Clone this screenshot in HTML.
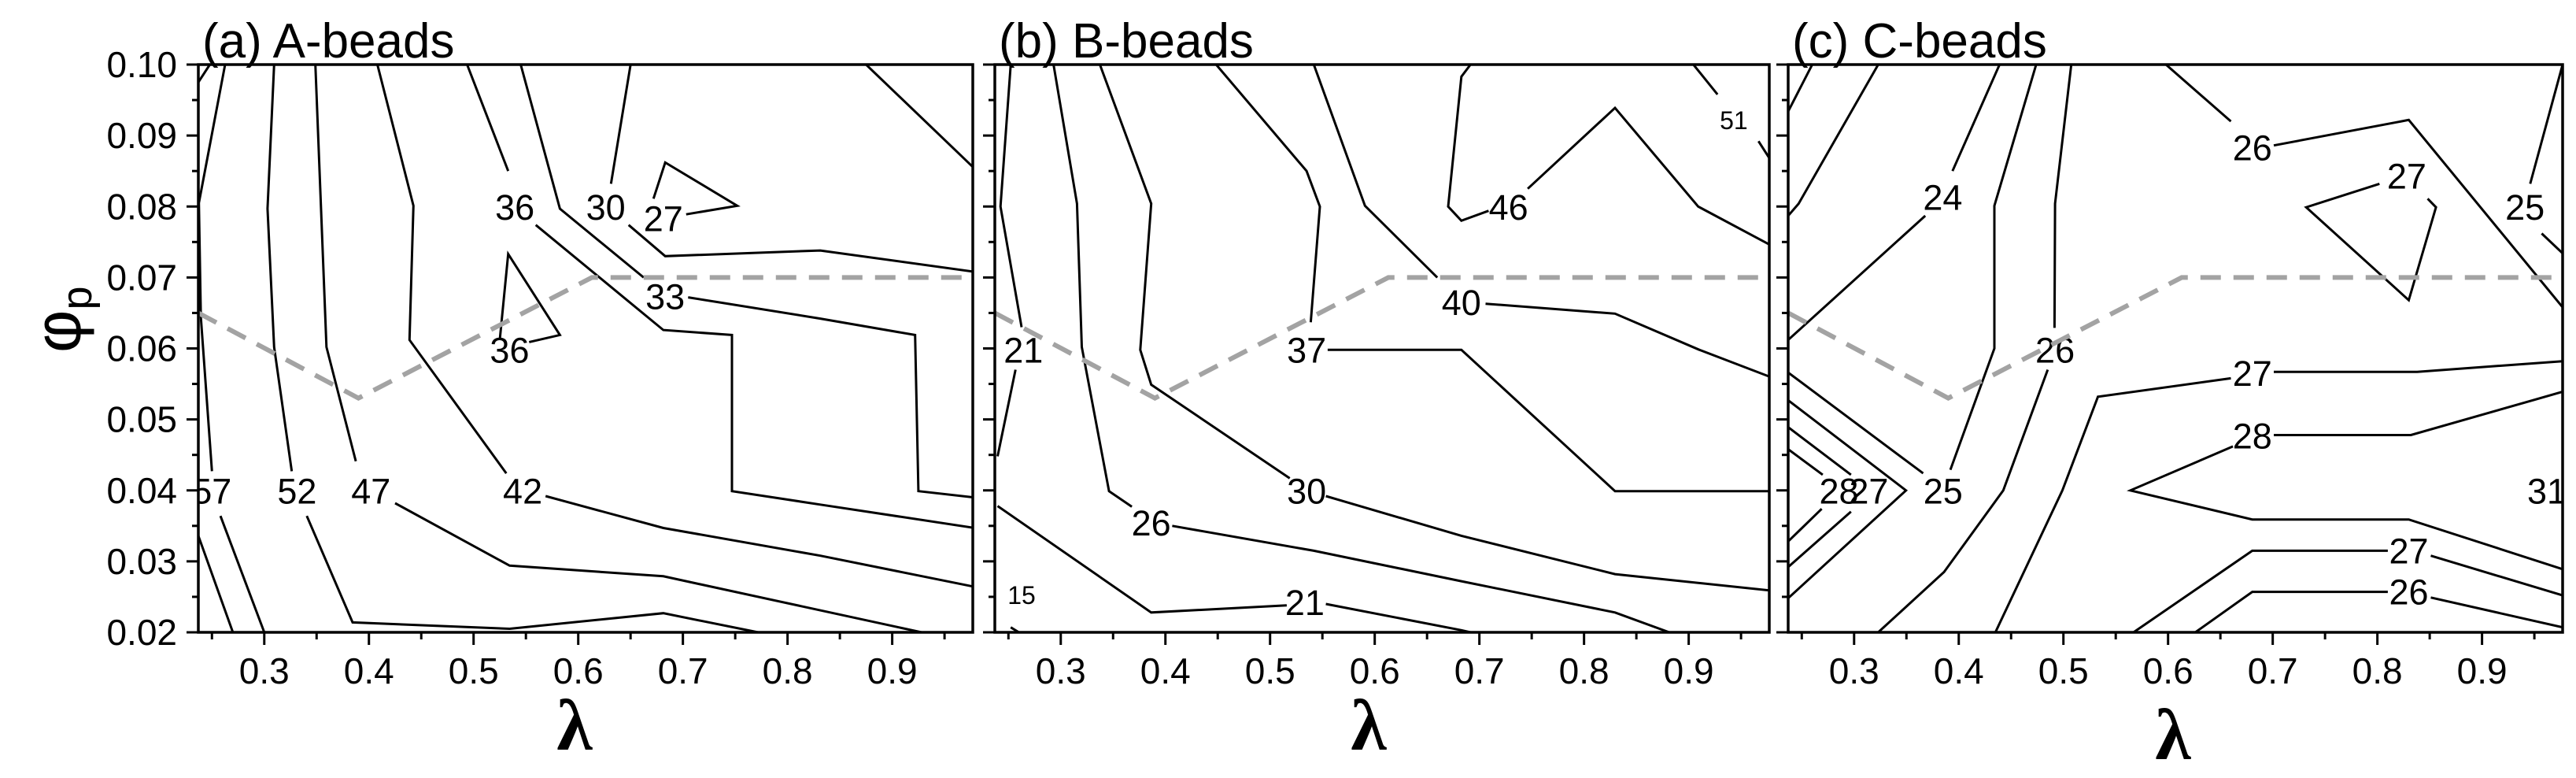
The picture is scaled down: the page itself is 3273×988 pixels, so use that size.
<!DOCTYPE html>
<html><head><meta charset="utf-8"><style>
html,body{margin:0;padding:0;background:#fff;}
svg{display:block;font-family:"Liberation Sans",sans-serif;}
</style></head><body>
<svg id="chart" width="3273" height="988" viewBox="0 0 3273 988" xmlns="http://www.w3.org/2000/svg">
<rect width="3273" height="988" fill="#fff"/>
</svg>
<script>
const lambdaRange = [0.237, 0.977];
const phiRange = [0.02, 0.10];
const xTicks = [0.3,0.4,0.5,0.6,0.7,0.8,0.9];
const xTickLabels = ["0.3","0.4","0.5","0.6","0.7","0.8","0.9"];
const yTicks = [0.02,0.03,0.04,0.05,0.06,0.07,0.08,0.09,0.10];
const yTickLabels = ["0.02","0.03","0.04","0.05","0.06","0.07","0.08","0.09","0.10"];
const panelTitles = ["(a) A-beads","(b) B-beads","(c) C-beads"];
const boundaryLine = [[0.237,0.065],[0.39,0.053],[0.613,0.070],[0.977,0.070]];

const panelALines = [
 [[0.248,0.1],[0.237,0.0975]],
 [[0.237,0.0336],[0.27,0.02]],
 [[0.2626,0.1],[0.2375,0.0805],[0.2394,0.0644],[0.25,0.0427]],
 [[0.2581,0.0364],[0.3,0.02]],
 [[0.3094,0.1],[0.3031,0.0797],[0.3094,0.0602],[0.3263,0.0427]],
 [[0.3406,0.0364],[0.3844,0.0214],[0.5344,0.0205],[0.6813,0.0227],[0.7719,0.02]],
 [[0.3488,0.1],[0.3594,0.0602],[0.3875,0.0441]],
 [[0.425,0.0382],[0.5344,0.0294],[0.6813,0.0279],[0.9281,0.02]],
 [[0.4081,0.1],[0.4425,0.0801],[0.4388,0.0612],[0.5313,0.0424]],
 [[0.5688,0.0392],[0.6813,0.0347],[0.8313,0.0308],[0.979,0.0264]],
 [[0.4938,0.1],[0.5331,0.085]],
 [[0.5594,0.0774],[0.6813,0.0626],[0.7469,0.0619],[0.7469,0.0399],[0.8313,0.038],[0.979,0.0347]],
 [[0.545,0.1],[0.5825,0.0797],[0.6625,0.07]],
 [[0.705,0.0672],[0.8313,0.0642],[0.9219,0.0619],[0.925,0.0399],[0.979,0.039]],
 [[0.65,0.1],[0.6313,0.0832]],
 [[0.6481,0.0774],[0.6831,0.073],[0.8313,0.0738],[0.979,0.0708]],
 [[0.6719,0.0811],[0.6831,0.0862],[0.7519,0.0801],[0.7031,0.0789]],
 [[0.525,0.0612],[0.5331,0.0733],[0.5825,0.0619],[0.5531,0.0609]],
 [[0.875,0.1],[0.979,0.0853]]
];
const panelALabels = [["57",0.25,0.0399],["52",0.3313,0.0399],["47",0.4019,0.0399],["42",0.5469,0.0399],["36",0.5394,0.0799],["33",0.6831,0.0673],["30",0.6263,0.0799],["27",0.6813,0.0783],["36",0.5344,0.0598]];
const panelASmall = [];

const panelBLines = [
 [[0.2522,0.1],[0.2424,0.08],[0.2626,0.063]],
 [[0.2568,0.057],[0.2396,0.0448]],
 [[0.2931,0.1],[0.3155,0.0804],[0.3201,0.0602],[0.3461,0.0399],[0.3679,0.0377]],
 [[0.4065,0.035],[0.5418,0.0315],[0.6828,0.0272],[0.8296,0.0228],[0.8815,0.02]],
 [[0.2396,0.0378],[0.3864,0.0228],[0.5159,0.0238]],
 [[0.5533,0.024],[0.6828,0.0203],[0.6915,0.02]],
 [[0.3374,0.1],[0.3864,0.0804],[0.376,0.0598],[0.3864,0.0549],[0.5188,0.0417]],
 [[0.5533,0.0392],[0.6828,0.0336],[0.8296,0.0282],[0.9776,0.0259]],
 [[0.4485,0.1],[0.5349,0.085],[0.5476,0.08],[0.5389,0.0637]],
 [[0.555,0.0598],[0.6828,0.0598],[0.8296,0.0399],[0.9776,0.0399]],
 [[0.5418,0.1],[0.5907,0.0801],[0.6598,0.07]],
 [[0.7059,0.0663],[0.8296,0.0649],[0.9103,0.0598],[0.9776,0.056]],
 [[0.6915,0.1],[0.6828,0.0983],[0.6702,0.08],[0.6828,0.078],[0.7088,0.0794]],
 [[0.7462,0.0825],[0.8296,0.0939],[0.9091,0.08],[0.9776,0.0746]],
 [[0.9045,0.1],[0.9275,0.0958]],
 [[0.9667,0.0892],[0.9776,0.0867]],
 [[0.2522,0.0207],[0.26,0.02]]
];
const panelBLabels = [["21",0.2643,0.0598],["26",0.3864,0.0354],["21",0.5332,0.0242],["30",0.5349,0.0399],["37",0.5349,0.0598],["40",0.6828,0.0665],["46",0.7278,0.0799]];
const panelBSmall = [["51",0.9431,0.0921],["15",0.2626,0.0252]];

const panelCLines = [
 [[0.260,0.1],[0.237,0.0934]],
 [[0.323,0.1],[0.247,0.0804],[0.237,0.0787]],
 [[0.439,0.1],[0.394,0.085]],
 [[0.368,0.0787],[0.237,0.0612]],
 [[0.474,0.1],[0.434,0.0801],[0.434,0.06],[0.392,0.0429]],
 [[0.366,0.0424],[0.237,0.0566]],
 [[0.5075,0.1],[0.492,0.0804],[0.4915,0.0629]],
 [[0.485,0.057],[0.4425,0.04],[0.386,0.0285],[0.323,0.02]],
 [[0.977,0.0582],[0.838,0.0567],[0.701,0.0567]],
 [[0.660,0.0558],[0.533,0.0532],[0.499,0.04],[0.435,0.02]],
 [[0.977,0.0539],[0.832,0.0478],[0.701,0.0478]],
 [[0.662,0.0462],[0.564,0.04],[0.6805,0.0359],[0.830,0.0359],[0.977,0.0289]],
 [[0.567,0.02],[0.6805,0.0315],[0.810,0.0315]],
 [[0.851,0.0308],[0.977,0.0252]],
 [[0.626,0.02],[0.6805,0.0257],[0.810,0.0257]],
 [[0.851,0.0249],[0.977,0.0207]],
 [[0.237,0.0527],[0.3496,0.04],[0.237,0.0248]],
 [[0.237,0.0489],[0.297,0.0422]],
 [[0.297,0.037],[0.237,0.0292]],
 [[0.237,0.0458],[0.270,0.0422]],
 [[0.269,0.0374],[0.237,0.0328]],
 [[0.598,0.1],[0.660,0.092]],
 [[0.701,0.0886],[0.830,0.0922],[0.977,0.0658]],
 [[0.802,0.0832],[0.732,0.0799],[0.830,0.0668],[0.856,0.0799],[0.848,0.0811]],
 [[0.977,0.1],[0.946,0.0832]],
 [[0.957,0.0762],[0.977,0.0734]]
];
const panelCLabels = [["24",0.3847,0.0813],["25",0.385,0.0399],["26",0.492,0.0598],["27",0.6805,0.0565],["28",0.6805,0.0477],["27",0.830,0.0315],["26",0.830,0.0257],["27",0.314,0.0399],["28",0.2855,0.0399],["26",0.6805,0.0883],["27",0.828,0.0843],["25",0.941,0.0799],["31",0.962,0.0399]];
const panelCSmall = [];

const NS = "http://www.w3.org/2000/svg";
const svg = document.getElementById('chart');
const panelLefts = [252,1264,2272];
const PW = 984, PT = 82, PH = 721;
const lambdaCenters = [730,1739,2761];
const panels = [
 {lines:panelALines,labels:panelALabels,small:panelASmall,key:'a'},
 {lines:panelBLines,labels:panelBLabels,small:panelBSmall,key:'b'},
 {lines:panelCLines,labels:panelCLabels,small:panelCSmall,key:'c'}
];
function mk(tag, attrs, parent){
  const e = document.createElementNS(NS, tag);
  for (const k in attrs) e.setAttribute(k, attrs[k]);
  (parent||svg).appendChild(e);
  return e;
}
panels.forEach((p, pi) => {
  const L = panelLefts[pi];
  const xs = v => L + (v - lambdaRange[0]) / (lambdaRange[1]-lambdaRange[0]) * PW;
  const ys = v => PT + PH - (v - phiRange[0]) / (phiRange[1]-phiRange[0]) * PH;
  const g = mk('g', {});
  
  
  const clipId = 'clip' + pi;
  const cp = mk('clipPath', {id: clipId}, g);
  mk('rect', {x:L, y:PT, width:PW, height:PH}, cp);
  const plot = mk('g', {'clip-path':'url(#'+clipId+')'}, g);
  
  
  p.lines.forEach((seg) => {
    const pl = mk('polyline', {points: seg.map(q => xs(q[0]).toFixed(1)+','+ys(q[1]).toFixed(1)).join(' '), fill:'none', stroke:'#000', 'stroke-width':3, 'stroke-linejoin':'miter'}, plot);
    
    
  });
  p.labels.forEach(l => {
    const t = mk('text', {x:xs(l[1]), y:ys(l[2])+16, 'font-size':45, 'text-anchor':'middle', fill:'#000'}, plot);
    t.textContent = l[0];
    
    
  });
  p.small.forEach(l => {
    const t = mk('text', {x:xs(l[1]), y:ys(l[2])+11, 'font-size':32, 'text-anchor':'middle', fill:'#000'}, plot);
    t.textContent = l[0];
    
    
  });
  const dash = mk('polyline', {points: boundaryLine.map(q => xs(q[0]).toFixed(1)+','+ys(q[1]).toFixed(1)).join(' '), fill:'none', stroke:'#a3a3a3', 'stroke-width':6, 'stroke-dasharray':'26 16'}, plot);
  
  
  const frame = mk('rect', {x:L, y:PT, width:PW, height:PH, fill:'none', stroke:'#000', 'stroke-width':3.5}, g);
  
  
  for (let i = 0; i <= 16; i++) {
    const v = phiRange[0] + i*0.005;
    const major = i % 2 === 0;
    const tk = mk('line', {x1:L - (major?15:8), x2:L, y1:ys(v), y2:ys(v), stroke:'#000', 'stroke-width':3}, g);
    
    
  }
  if (pi === 0) {
    yTicks.forEach((v, i) => {
      const t = mk('text', {x:L-27, y:ys(v)+16, 'font-size':46, 'text-anchor':'end', fill:'#000'}, g);
      t.textContent = yTickLabels[i];
      
      
    });
  }
  for (let v = 0.25; v < lambdaRange[1]; v += 0.05) {
    const major = Math.abs(Math.round(v*10) - v*10) < 1e-6;
    const tk = mk('line', {x1:xs(v), x2:xs(v), y1:PT+PH, y2:PT+PH+(major?16:9), stroke:'#000', 'stroke-width':3}, g);
    
    
  }
  xTicks.forEach((v, i) => {
    const t = mk('text', {x:xs(v), y:868, 'font-size':46, 'text-anchor':'middle', fill:'#000'}, g);
    t.textContent = xTickLabels[i];
    
    
  });
  const title = mk('text', {x:L+5, y:73, 'font-size':62, fill:'#000'}, g);
  title.textContent = panelTitles[pi];
  
  
  const xl = mk('text', {x:lambdaCenters[pi], y: pi===2 ? 964 : 952, 'font-size':92, 'font-weight':'bold', 'text-anchor':'middle', 'font-family':'"Liberation Serif", serif', fill:'#000'}, g);
  xl.textContent = 'λ';
  
  
});
const yl = mk('text', {x:0, y:0, 'font-size':84, fill:'#000', transform:'translate(102,448) rotate(-90)'});


const phiSpan = mk('tspan', {}, yl);
phiSpan.textContent = 'φ';
const subSpan = mk('tspan', {'font-size':54, dy:14}, yl);
subSpan.textContent = 'p';
</script>
</body></html>
